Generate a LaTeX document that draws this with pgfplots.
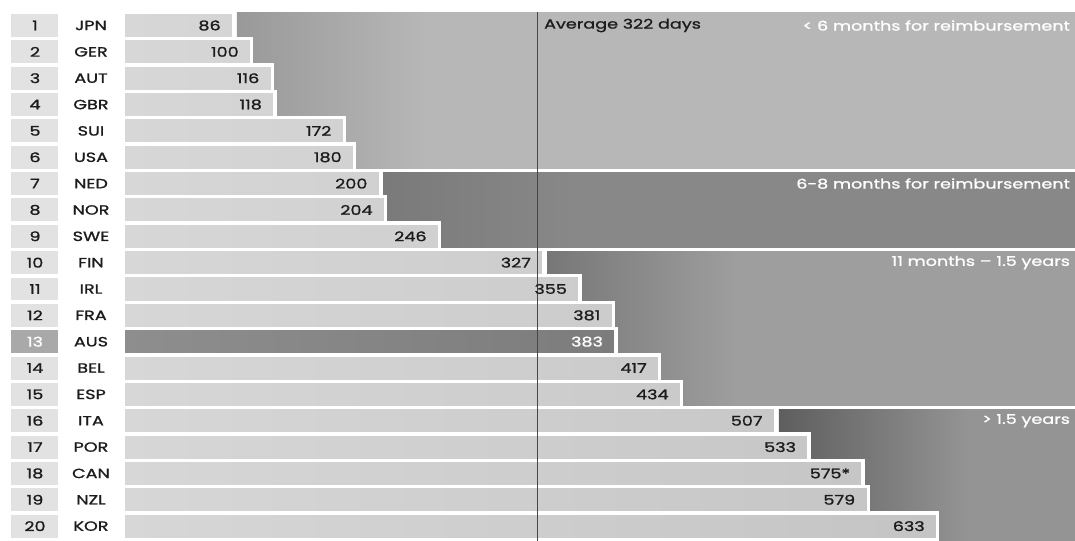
\documentclass[border=0pt]{standalone}
\usepackage{fontspec}
\setmainfont{Poppins}[FakeStretch=1.32, FakeBold=1.2]
\usepackage{pgfplots}
\usepackage{pgfplotstable}
\pgfplotsset{compat=1.18}

\definecolor{rankbg}{HTML}{E2E2E2}
\definecolor{rankhi}{HTML}{A9A9A9}
\definecolor{barL}{HTML}{D7D7D7}
\definecolor{barR}{HTML}{C4C4C4}
\definecolor{ausL}{HTML}{8E8E8E}
\definecolor{ausR}{HTML}{7C7C7C}
\definecolor{txt}{HTML}{1C1C1C}
\definecolor{avgline}{HTML}{474747}
\definecolor{gA}{HTML}{999999}\definecolor{gAr}{HTML}{B7B7B7}
\definecolor{gB}{HTML}{7A7A7A}\definecolor{gBr}{HTML}{888888}
\definecolor{gC}{HTML}{777777}\definecolor{gCr}{HTML}{9E9E9E}
\definecolor{gD}{HTML}{5E5E5E}\definecolor{gDr}{HTML}{949494}

% days until reimbursement, ranked
\pgfplotstableread{
rank days label
1 86 86
2 100 100
3 116 116
4 118 118
5 172 172
6 180 180
7 200 200
8 204 204
9 246 246
10 327 327
11 355 355
12 381 381
14 417 417
15 434 434
16 507 507
17 533 533
18 575 575*
19 579 579
20 633 633
}\othersdata
\pgfplotstableread{
rank days label
13 383 383
}\ausdata

\newcommand\lbl{\fontsize{10}{12}\selectfont}

% rank box, rank number and country code of one row
\newcommand\rankrow[4]{%
  \fill[#3] (axis cs:-87,{#1-0.436}) rectangle (axis cs:-50.5,{#1+0.436});
  \node[text=#4, font=\lbl] at (axis cs:-68.4,#1) {#1};
  \node[text=txt, font=\lbl] at (axis cs:-24.9,#1) {#2};
}

% background band of a group: darker edge next to the bars, fading right
\newcommand\band[5]{%
  \shade[left color=#4, right color=#5] (axis cs:{#1+2.5},#2) rectangle (axis cs:{#1+150},#3);
  \fill[#5] (axis cs:{#1+149.5},#2) rectangle (axis cs:739.7,#3);
}

\begin{document}
\begin{tikzpicture}[font=\lbl]
\begin{axis}[
  width=806.25pt, height=405.75pt, scale only axis,
  xmin=-95.6, xmax=739.7, ymin=0.0323, ymax=20.564,
  y dir=reverse, hide axis,
  xbar, bar width=1, bar shift=0pt,
]
\fill[white] (rel axis cs:0,0) rectangle (rel axis cs:1,1);

\band{86}{0.5}{6.5}{gA}{gAr}
\band{200}{6.5}{9.5}{gB}{gBr}
\band{327}{9.5}{15.5}{gC}{gCr}
\band{507}{15.5}{20.6}{gD}{gDr}
\draw[white, line width=2.5pt] (axis cs:0,6.5) -- (axis cs:739.7,6.5);
\draw[white, line width=2.5pt] (axis cs:0,9.5) -- (axis cs:739.7,9.5);
\draw[white, line width=2.5pt] (axis cs:0,15.5) -- (axis cs:739.7,15.5);

\addplot[draw=white, line width=2.5pt, left color=barL, right color=barR,
  nodes near coords, point meta=explicit symbolic,
  every node near coord/.append style={anchor=east, xshift=-8.5pt,
    inner sep=0pt, text=txt, font=\lbl}]
  table[x=days, y=rank, meta=label] {\othersdata};
\addplot[draw=white, line width=2.5pt, left color=ausL, right color=ausR,
  nodes near coords, point meta=explicit symbolic,
  every node near coord/.append style={anchor=east, xshift=-8.5pt,
    inner sep=0pt, text=white, font=\lbl}]
  table[x=days, y=rank, meta=label] {\ausdata};

\rankrow{1}{JPN}{rankbg}{txt}
\rankrow{2}{GER}{rankbg}{txt}
\rankrow{3}{AUT}{rankbg}{txt}
\rankrow{4}{GBR}{rankbg}{txt}
\rankrow{5}{SUI}{rankbg}{txt}
\rankrow{6}{USA}{rankbg}{txt}
\rankrow{7}{NED}{rankbg}{txt}
\rankrow{8}{NOR}{rankbg}{txt}
\rankrow{9}{SWE}{rankbg}{txt}
\rankrow{10}{FIN}{rankbg}{txt}
\rankrow{11}{IRL}{rankbg}{txt}
\rankrow{12}{FRA}{rankbg}{txt}
\rankrow{13}{AUS}{rankhi}{white}
\rankrow{14}{BEL}{rankbg}{txt}
\rankrow{15}{ESP}{rankbg}{txt}
\rankrow{16}{ITA}{rankbg}{txt}
\rankrow{17}{POR}{rankbg}{txt}
\rankrow{18}{CAN}{rankbg}{txt}
\rankrow{19}{NZL}{rankbg}{txt}
\rankrow{20}{KOR}{rankbg}{txt}

% average
\draw[avgline, line width=1.1pt] (axis cs:322,0.5) -- (axis cs:322,20.564);
\node[anchor=west, inner sep=0pt, text=txt, font=\lbl] at (axis cs:327,1) {Average 322 days};

% group captions
\node[anchor=east, inner sep=0pt, text=white, font=\lbl] at (axis cs:736,1) {< 6 months for reimbursement};
\node[anchor=east, inner sep=0pt, text=white, font=\lbl] at (axis cs:736,7) {6-8 months for reimbursement};
\node[anchor=east, inner sep=0pt, text=white, font=\lbl] at (axis cs:736,10) {11 months – 1.5 years};
\node[anchor=east, inner sep=0pt, text=white, font=\lbl] at (axis cs:736,16) {> 1.5 years};
\end{axis}
\end{tikzpicture}
\end{document}
